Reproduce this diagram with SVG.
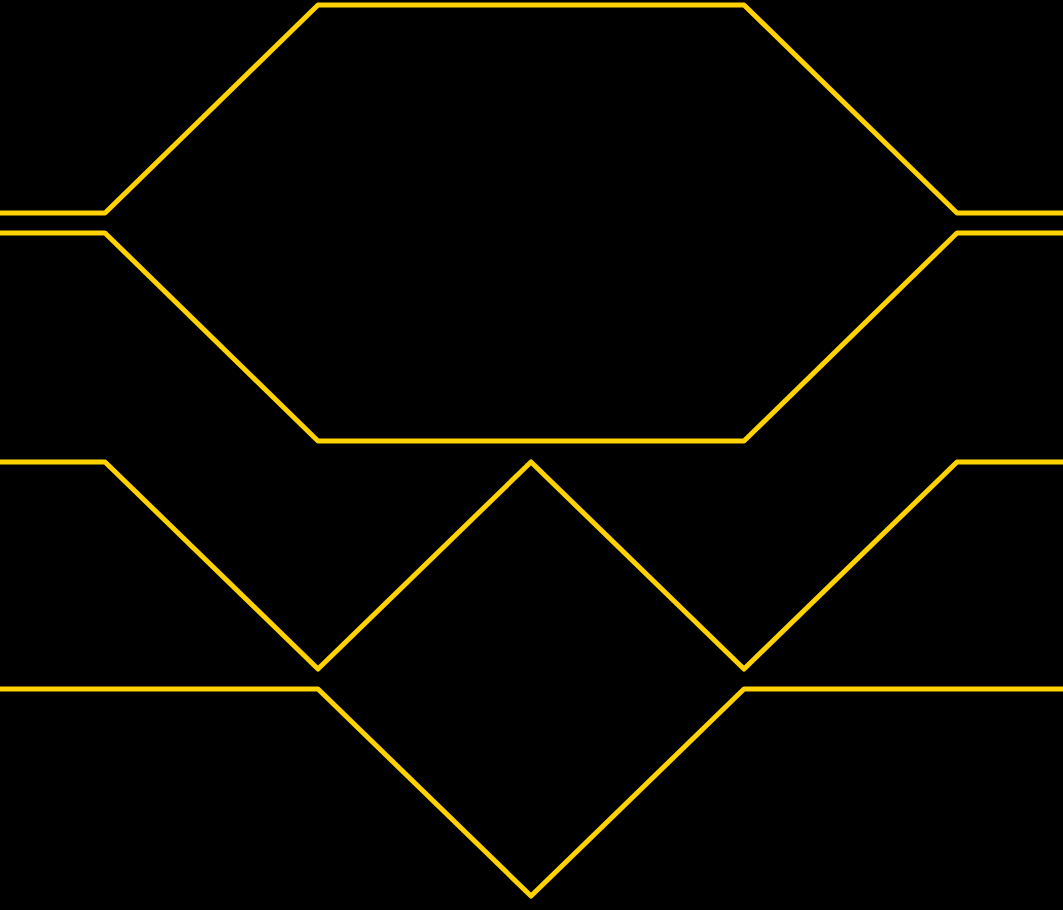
<svg xmlns="http://www.w3.org/2000/svg" width="1063" height="910" viewBox="0 0 1063 910">
<style>
.w{fill:none;stroke:#FFD200;stroke-width:5;stroke-linejoin:round;stroke-linecap:butt}
</style>
<rect width="1063" height="910" fill="#000"/>
<g id="connectors">
<polyline class="w" points="-5,213 105,213 318,5 744,5 957,213 1068,213"/>
<polyline class="w" points="-5,233 105,233 318,441 744,441 957,233 1068,233"/>
<polyline class="w" points="-5,462 105,462 318,669 531,462 744,669 957,462 1068,462"/>
<polyline class="w" points="-5,689 318,689 531,896 744,689 1068,689"/>
</g>
</svg>
